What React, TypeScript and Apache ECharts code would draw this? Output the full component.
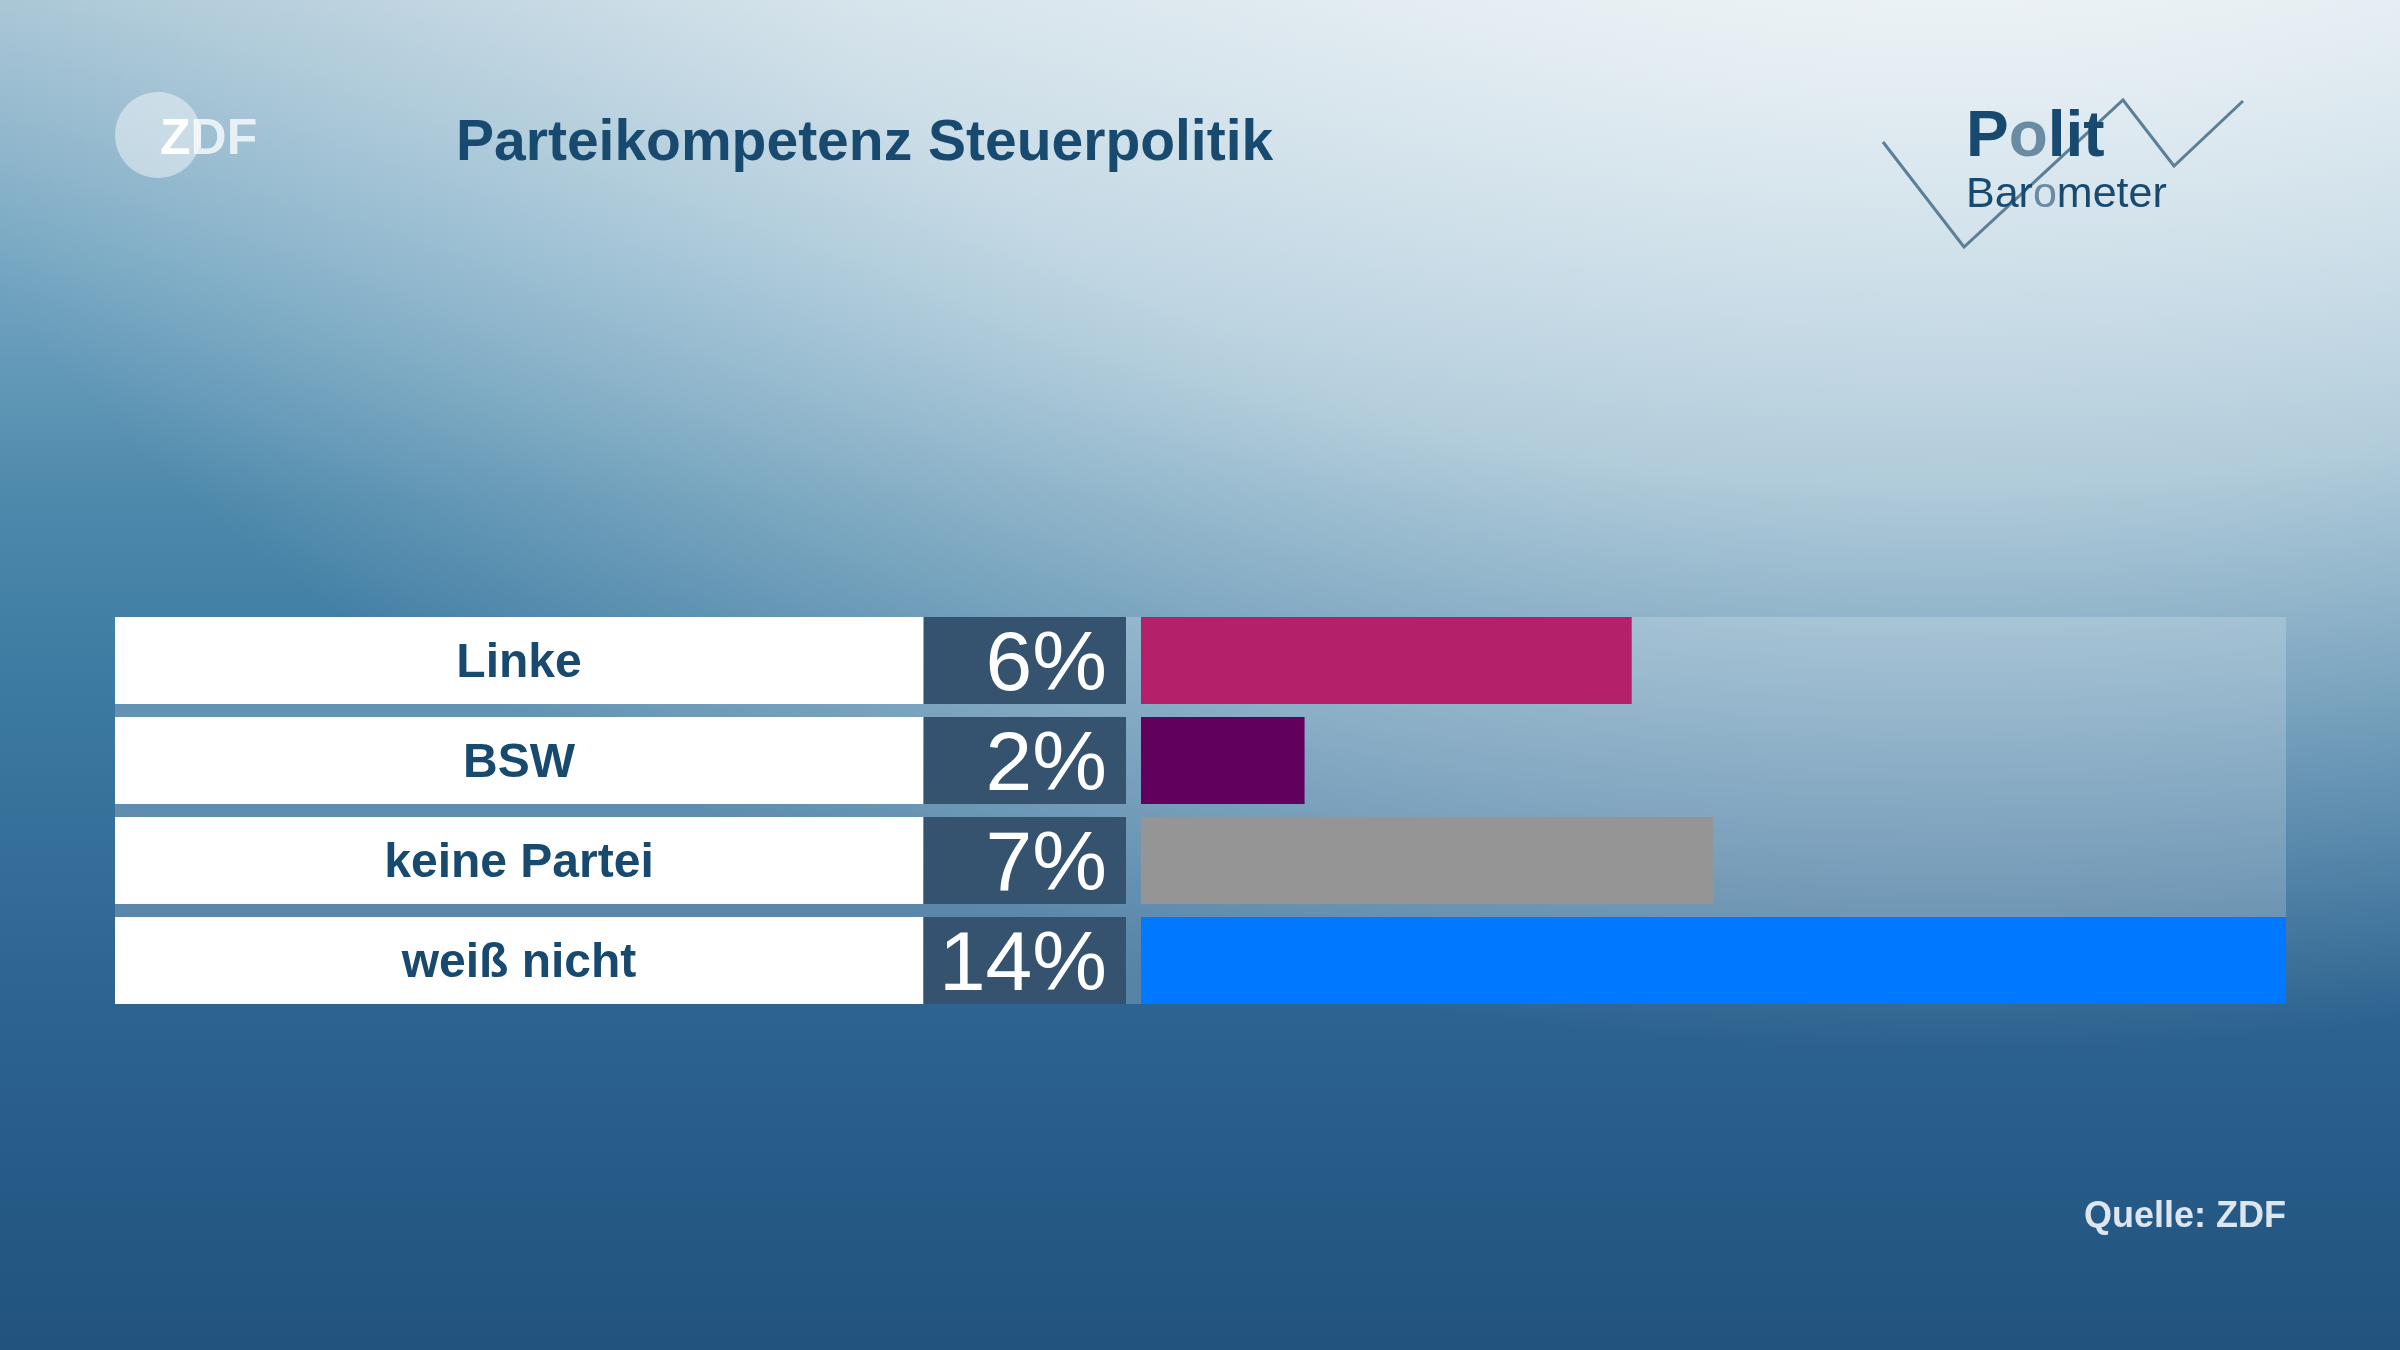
import React, { useEffect, useRef } from "react";
import * as echarts from "echarts";

const categories = ["Linke", "BSW", "keine Partei", "weiß nicht"];
const values = [6, 2, 7, 14];
const barColors = ["#b5206a", "#62005e", "#959595", "#0078ff"];
const titleText = "Parteikompetenz Steuerpolitik";
const sourceText = "Quelle: ZDF";
const valueMax = 14;

export default function App() {
  const ref = useRef<HTMLDivElement>(null);
  useEffect(() => {
    if (!ref.current) return;
    const chart = echarts.init(ref.current, null, { renderer: "svg" });
    const font = "'Liberation Sans', Arial, sans-serif";
    const option: any = {
      animation: false,
      graphic: {
        elements: [
          {
            type: "rect",
            z: -100,
            shape: { x: 0, y: 0, width: 2400, height: 1350 },
            style: {
              fill: new echarts.graphic.LinearGradient(0, 0, 0, 1, [
                { offset: 0, color: "#a3c2d3" },
                { offset: 0.2, color: "#73a5c1" },
                { offset: 0.37, color: "#4d89ab" },
                { offset: 0.52, color: "#3c79a1" },
                { offset: 0.75, color: "#2c6390" },
                { offset: 1, color: "#21537e" },
              ]),
            },
          },
          {
            type: "rect",
            z: -99,
            x: 1950,
            y: -200,
            scaleX: 1.7,
            shape: { x: -1250, y: -1250, width: 2500, height: 2500 },
            style: {
              fill: new echarts.graphic.RadialGradient(0.5, 0.5, 0.5, [
                { offset: 0, color: "rgba(255,255,255,0.88)" },
                { offset: 0.55, color: "rgba(255,255,255,0.55)" },
                { offset: 1, color: "rgba(255,255,255,0)" },
              ]),
            },
          },
          {
            type: "rect",
            z: -50,
            shape: { x: 115, y: 617, width: 2171, height: 387 },
            style: { fill: "rgba(255,255,255,0.2)" },
          },
          {
            type: "circle",
            z: 5,
            shape: { cx: 158, cy: 135, r: 43 },
            style: { fill: "rgba(255,255,255,0.45)" },
          },
          {
            type: "text",
            z: 6,
            x: 160,
            y: 137,
            style: {
              text: "{a|Z}{b|DF}",
              verticalAlign: "middle",
              rich: {
                a: { fontFamily: font, fontWeight: "bold", fontSize: 50, fill: "#ffffff" },
                b: { fontFamily: font, fontWeight: "bold", fontSize: 50, fill: "rgba(255,255,255,0.75)" },
              },
            },
          },
          {
            type: "text",
            z: 6,
            x: 456,
            y: 140,
            style: {
              text: titleText,
              fontFamily: font,
              fontWeight: "bold",
              fontSize: 57,
              fill: "#174a6e",
              verticalAlign: "middle",
            },
          },
          {
            type: "polyline",
            z: 5,
            shape: {
              points: [
                [1883, 142],
                [1964, 247],
                [2123, 100],
                [2174, 166],
                [2243, 101],
              ],
            },
            style: { stroke: "#5b7f98", lineWidth: 3, fill: null },
          },
          {
            type: "text",
            z: 6,
            x: 1966,
            y: 166,
            style: {
              text: "{d|P}{l|o}{d|lit}",
              verticalAlign: "bottom",
              rich: {
                d: { fontFamily: font, fontWeight: "bold", fontSize: 64, fill: "#174a6e" },
                l: { fontFamily: font, fontWeight: "bold", fontSize: 64, fill: "#6a8ba4" },
              },
            },
          },
          {
            type: "text",
            z: 6,
            x: 1966,
            y: 213,
            style: {
              text: "{d|Bar}{l|o}{d|meter}",
              verticalAlign: "bottom",
              rich: {
                d: { fontFamily: font, fontSize: 43, fill: "#174a6e" },
                l: { fontFamily: font, fontSize: 43, fill: "#6a8ba4" },
              },
            },
          },
          {
            type: "text",
            z: 6,
            x: 2286,
            y: 1214,
            style: {
              text: sourceText,
              fontFamily: font,
              fontWeight: "bold",
              fontSize: 36,
              fill: "#dde6ee",
              align: "right",
              verticalAlign: "middle",
            },
          },
        ],
      },
      grid: { left: 1141, top: 610.5, width: 1145, height: 400, containLabel: false },
      xAxis: {
        type: "value",
        min: 0,
        max: valueMax,
        show: false,
      },
      yAxis: {
        type: "category",
        data: categories,
        inverse: true,
        axisLine: { show: false },
        axisTick: { show: false },
        splitLine: { show: false },
        axisLabel: {
          margin: 622,
          align: "center",
          verticalAlign: "middle",
          width: 808,
          height: 87,
          lineHeight: 87,
          backgroundColor: "#ffffff",
          fontFamily: font,
          fontWeight: "bold",
          fontSize: 48,
          color: "#174a6e",
        },
      },
      series: [
        {
          type: "bar",
          data: values.map((v, i) => ({ value: v, itemStyle: { color: barColors[i] } })),
          barWidth: 87,
          label: {
            show: true,
            position: [-15, 0],
            align: "right",
            verticalAlign: "top",
            width: 183,
            height: 87,
            lineHeight: 87,
            padding: [0, 19, 0, 0],
            backgroundColor: "#35536e",
            color: "#ffffff",
            fontFamily: font,
            fontWeight: "normal",
            fontSize: 84,
            formatter: (p: any) => p.value + "%",
          },
        },
      ],
    };
    chart.setOption(option);
    return () => chart.dispose();
  }, []);
  return (
    <div
      ref={ref}
      style={{ position: "fixed", left: 0, top: 0, width: 2400, height: 1350 }}
    />
  );
}
